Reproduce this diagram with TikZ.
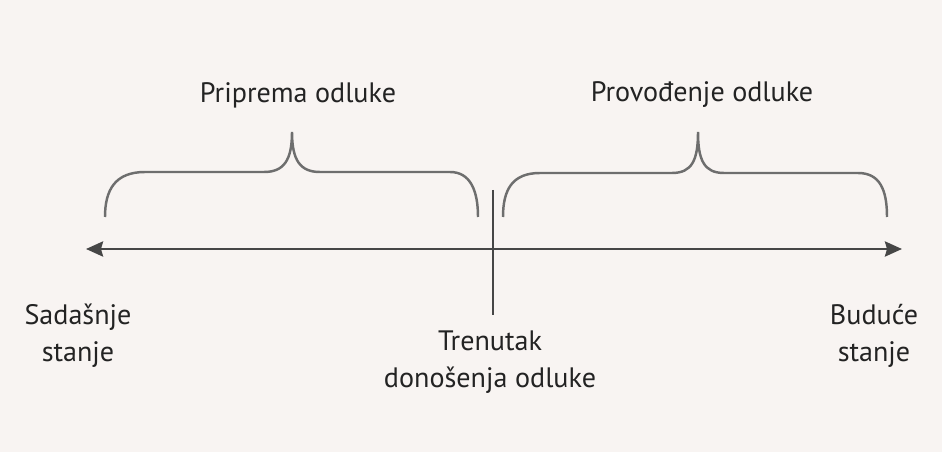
\documentclass[tikz,border=0pt]{standalone}
\usepackage{fontspec}
\setmainfont{PT Sans}
\usetikzlibrary{arrows.meta}
\definecolor{paper}{RGB}{248,244,242}
\definecolor{ink}{RGB}{35,35,35}
\definecolor{lineg}{RGB}{70,70,70}
\definecolor{braceg}{RGB}{110,110,110}
\begin{document}
\begin{tikzpicture}[x=0.02cm,y=-0.02cm,
	lbl/.style={text=ink,align=center,font=\fontsize{16}{21}\selectfont,inner sep=0pt},
	bracel/.style={draw=braceg,line width=1.4pt},
	axis/.style={draw=lineg,line width=1.6pt,{Stealth[length=0.34cm,width=0.3cm,inset=0.04cm]}-{Stealth[length=0.34cm,width=0.3cm,inset=0.04cm]}}]
	   \fill [fill=paper] (0,0) rectangle (942,452);
	   \useasboundingbox (0,0) rectangle (942,452);
	   % time axis and moment of decision
	   \coordinate (past) at (86,249);
	   \coordinate (future) at (902,249);
	   \coordinate (mtop) at (493,190);
	   \coordinate (mbot) at (493,315);
	   \draw[axis] (past) -- (future);
	   \draw[draw=lineg,line width=1.2pt] (mtop) -- (mbot);
	   % braces
	   \draw[bracel] (105,217) .. controls (105,190) and (115,172) .. (145,172) -- (264,172) .. controls (284,172) and (292,160) .. (292,132) .. controls (292,160) and (300,172) .. (320,172) -- (450,172) .. controls (470,172) and (478,190) .. (478,217);
	   \draw[bracel] (503,217) .. controls (503,190) and (512,173) .. (540,173) -- (672,173) .. controls (692,173) and (698,160) .. (698,132) .. controls (698,160) and (704,173) .. (724,173) -- (858,173) .. controls (880,173) and (887,190) .. (887,217);
	   % labels
	   \node [lbl] (prep) at (298,95) {Priprema odluke};
	   \node [lbl] (prov) at (702,95) {Provođenje odluke};
	   \node [lbl] (sad) at (78,336) {Sadašnje\\stanje};
	   \node [lbl] (bud) at (874,336) {Buduće\\stanje};
	   \node [lbl] (tren) at (490,362) {Trenutak\\donošenja odluke};
	\end{tikzpicture}
\end{document}
